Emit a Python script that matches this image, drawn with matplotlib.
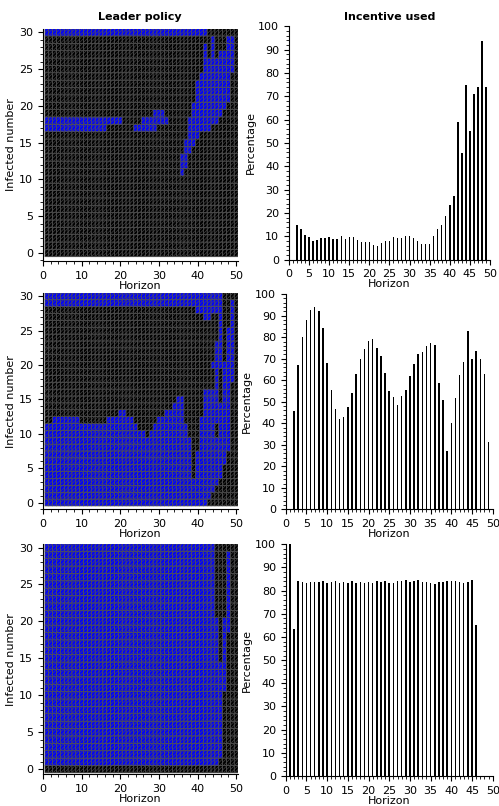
import numpy as np
import matplotlib
matplotlib.use("Agg")
import matplotlib.pyplot as plt
from matplotlib.colors import ListedColormap
from matplotlib.ticker import MultipleLocator

# leader policy maps: blue runs (first col, last col) per infected number, 30 -> 0
policy_top = [
    [(1, 42)],
    [(44, 44), (48, 49)],
    [(42, 42), (44, 44), (48, 49)],
    [(42, 42), (44, 44), (46, 49)],
    [(42, 49)],
    [(42, 49)],
    [(41, 48)],
    [(40, 48)],
    [(40, 48)],
    [(40, 48)],
    [(39, 47)],
    [(29, 31), (39, 46)],
    [(1, 20), (26, 32), (38, 45)],
    [(1, 16), (24, 29), (38, 43)],
    [(38, 40)],
    [(37, 39)],
    [(37, 38)],
    [(36, 37)],
    [(36, 37)],
    [(36, 36)],
    [], [], [], [], [], [], [], [], [], [], [],
]

policy_mid = [
    [(1, 46)],
    [(1, 46), (49, 49)],
    [(40, 46), (49, 49)],
    [(42, 43), (46, 46), (49, 49)],
    [(46, 46), (49, 49)],
    [(46, 46), (48, 49)],
    [(46, 46), (48, 49)],
    [(45, 46), (48, 49)],
    [(45, 46), (48, 49)],
    [(45, 46), (48, 49)],
    [(44, 49)],
    [(45, 45), (47, 49)],
    [(45, 45), (47, 49)],
    [(45, 45), (47, 48)],
    [(42, 45), (47, 48)],
    [(35, 36), (42, 45), (47, 48)],
    [(34, 36), (42, 48)],
    [(20, 21), (32, 36), (42, 48)],
    [(3, 9), (17, 23), (30, 36), (41, 48)],
    [(1, 24), (29, 37), (41, 44), (46, 48)],
    [(1, 26), (28, 37), (41, 44), (46, 48)],
    [(1, 38), (41, 48)],
    [(1, 38), (41, 48)],
    [(1, 38), (40, 47)],
    [(1, 38), (40, 47)],
    [(1, 38), (40, 46)],
    [(1, 38), (40, 46)],
    [(1, 45)],
    [(1, 44)],
    [(1, 43)],
    [(1, 42)],
]

policy_bot = [
    [(1, 44)],
    [(1, 44), (48, 48)],
    [(1, 44), (48, 48)],
    [(1, 44), (48, 48)],
    [(1, 44), (48, 48)],
    [(1, 44), (48, 48)],
    [(1, 44), (48, 48)],
    [(1, 44), (48, 48)],
    [(1, 44), (48, 48)],
    [(1, 44), (48, 48)],
    [(1, 45), (47, 48)],
    [(1, 45), (47, 48)],
    [(1, 45), (47, 47)],
    [(1, 45), (47, 47)],
    [(1, 45), (47, 47)],
    [(1, 45), (47, 47)],
    [(1, 47)],
    [(1, 47)],
    [(1, 47)],
    [(1, 47)],
    [(1, 46)],
    [(1, 46)],
    [(1, 46)],
    [(1, 46)],
    [(1, 46)],
    [(1, 46)],
    [(1, 46)],
    [(1, 46)],
    [(1, 46)],
    [(1, 45)],
    [],
]

# incentive used (%)
incentive_top = [15, 13, 10.5, 9.5, 8, 8.2, 9.1, 9.1, 9.6, 8.9, 8.9, 10, 8.6, 9.5,
                 9.8, 8.2, 7.6, 7.7, 7.3, 6.2, 6, 6.9, 7.9, 8, 9.5, 9.2, 9.4, 10,
                 10, 9.4, 7.8, 6.6, 6.8, 6.8, 10, 13, 15, 18.8, 23.5, 27.3, 59,
                 45.5, 74.7, 55, 71, 73.8, 93.5, 73.8]
incentive_mid = [45.5, 67, 80, 88, 92.5, 94, 92, 84.3, 67.8, 55.7, 46.5, 41.8, 43,
                 47.8, 54.3, 63, 69.8, 74.5, 78.3, 79, 75.2, 71.3, 63.3, 55, 52,
                 48.6, 52.8, 55.7, 62, 67.7, 72, 73.3, 75.7, 77.5, 76.2, 58.6, 51,
                 27.3, 40, 51.6, 62.3, 68.7, 83, 69.8, 73.8, 70, 62.7, 31.4]
incentive_bot = [100, 63.5, 84.2, 83.8, 83.5, 83.6, 83.7, 83.7, 84, 83.3, 83.7, 84,
                 83.5, 83.6, 83.4, 84, 83.3, 83.6, 83.3, 83.6, 83.2, 84, 83.6, 84,
                 83.5, 83.3, 84, 84.2, 84.5, 83.6, 84, 84.5, 83.7, 83.6, 83.4, 82.8,
                 83.6, 83.6, 84, 84.1, 84.1, 83.6, 83.3, 83.7, 84.4, 65]
start_top, start_mid, start_bot = 2, 2, 1

n_rows, n_cols = 31, 50


def build_grid(runs):
    grid = np.zeros((n_rows, n_cols))
    for i, row in enumerate(runs):
        r = n_rows - 1 - i
        for a, b in row:
            grid[r, a - 1:b] = 1
    return grid


plt.rcParams['font.family'] = 'DejaVu Sans'
plt.rcParams['font.size'] = 8
plt.rcParams['hatch.color'] = '#3c3c3c'
plt.rcParams['hatch.linewidth'] = 0.4

fig = plt.figure(figsize=(4.99, 8.06), dpi=100)

left_pos = [[0.0862, 0.676, 0.391, 0.2885],
            [0.0862, 0.368, 0.391, 0.2687],
            [0.0862, 0.0393, 0.391, 0.286]]
left_ylim = [(-1.1, 30.5), (-1.0, 30.5), (-0.7, 30.5)]
right_pos = [[0.579, 0.678, 0.403, 0.2895],
             [0.5725, 0.368, 0.415, 0.267],
             [0.5725, 0.0372, 0.415, 0.2875]]

cmap = ListedColormap(['black', '#0000ff'])
xe = np.arange(0.5, n_cols + 1.5)
ye = np.arange(-0.5, n_rows + 0.5)

policies = [policy_top, policy_mid, policy_bot]
incentives = [incentive_top, incentive_mid, incentive_bot]
starts = [start_top, start_mid, start_bot]

for k in range(3):
    ax = fig.add_axes(left_pos[k])
    grid = build_grid(policies[k])
    ax.pcolor(xe, ye, grid, cmap=cmap, vmin=0, vmax=1, edgecolors='#505050',
              linewidth=0.5, hatch='/' * 9)
    ax.set_xlim(0, 50.5)
    ax.set_ylim(*left_ylim[k])
    ax.set_xticks([0, 10, 20, 30, 40, 50])
    ax.set_yticks([0, 5, 10, 15, 20, 25, 30])
    ax.xaxis.set_minor_locator(MultipleLocator(2))
    ax.yaxis.set_minor_locator(MultipleLocator(1))
    ax.spines['top'].set_visible(False)
    ax.spines['right'].set_visible(False)
    ax.tick_params(which='major', length=3.5, width=0.8)
    ax.tick_params(which='minor', length=2, width=0.6)
    ax.set_xlabel('Horizon', labelpad=0)
    ax.set_ylabel('Infected number', labelpad=2)

    ax2 = fig.add_axes(right_pos[k])
    vals = incentives[k]
    xs = np.arange(starts[k], starts[k] + len(vals))
    ax2.bar(xs, vals, width=0.35, color='black')
    ax2.set_xlim(0, 50)
    ax2.set_ylim(0, 100)
    ax2.set_xticks(range(0, 51, 5))
    ax2.set_yticks(range(0, 101, 10))
    ax2.xaxis.set_minor_locator(MultipleLocator(1))
    ax2.yaxis.set_minor_locator(MultipleLocator(2))
    ax2.spines['top'].set_visible(False)
    ax2.spines['right'].set_visible(False)
    ax2.tick_params(which='major', length=3.5, width=0.8)
    ax2.tick_params(which='minor', length=2, width=0.6)
    ax2.set_xlabel('Horizon', labelpad=0)
    ax2.set_ylabel('Percentage', labelpad=2)

fig.text(0.281, 0.985, 'Leader policy', ha='center', va='top',
         fontweight='bold', fontsize=8)
fig.text(0.781, 0.985, 'Incentive used', ha='center', va='top',
         fontweight='bold', fontsize=8)

fig.savefig('out.png', dpi=100)
